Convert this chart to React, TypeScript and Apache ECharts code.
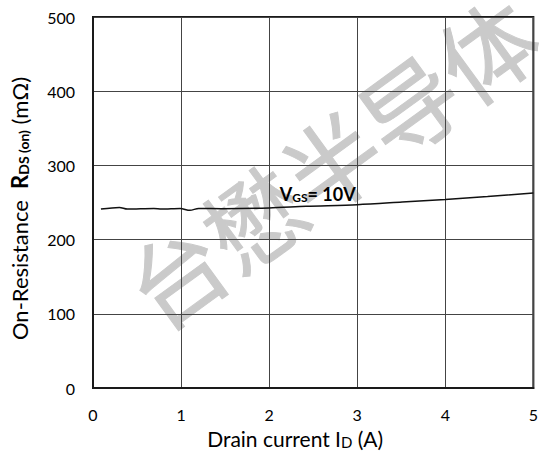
import React, { useEffect, useRef } from "react";
import * as echarts from "echarts";

const currentA = [0.09, 0.3, 0.39, 0.69, 0.78, 0.99, 1.1, 1.2, 1.48, 2.0, 2.42, 3.0, 3.51, 4.0, 4.48, 5.0];
const resistance = [241.2, 243.4, 241.2, 242, 241.2, 242, 239.4, 242, 241.6, 242.6, 244.8, 247, 250.6, 254.2, 258.2, 262.8];
const xTicks = [0, 1, 2, 3, 4, 5];
const yTicks = [0, 100, 200, 300, 400, 500];
const curveLabel = { x: 2.12, y: 263 };
const watermarkText = "台懋半导体";

const FONT = "Lato, 'Noto Sans', sans-serif";

export default function App() {
  const ref = useRef<HTMLDivElement>(null);
  useEffect(() => {
    if (!ref.current) return;
    const chart = echarts.init(ref.current, undefined, { renderer: "svg" });
    const data = currentA.map((x, i) => [x, resistance[i]]);
    chart.setOption({
      animation: false,
      backgroundColor: "#fff",
      textStyle: { fontFamily: FONT },
      grid: {
        left: 92,
        right: 6,
        top: 17,
        bottom: 67,
        show: true,
        borderColor: "#1a1a1a",
        borderWidth: 2,
        backgroundColor: "transparent",
      },
      graphic: [
        {
          type: "text",
          x: 330,
          y: 160,
          z: -10,
          rotation: (36 * Math.PI) / 180,
          style: {
            text: watermarkText,
            fontSize: 96,
            fontWeight: "normal",
            fontFamily: "'Noto Sans CJK SC', sans-serif",
            fill: "#cacaca",
            stroke: "#cacaca",
            lineWidth: 1,
            align: "center",
            verticalAlign: "middle",
          },
        },
      ],
      xAxis: {
        type: "value",
        min: xTicks[0],
        max: xTicks[xTicks.length - 1],
        interval: 1,
        axisLine: { show: true, lineStyle: { color: "#1a1a1a", width: 2 } },
        axisTick: { show: false },
        splitLine: { show: true, lineStyle: { color: "#444", width: 1 } },
        axisLabel: { color: "#000", fontSize: 16, margin: 18, fontFamily: FONT },
        name: "{n|Drain current I}{s|D}{n| (A)}",
        nameLocation: "middle",
        nameGap: 37,
        nameTextStyle: {
          padding: [0, 36, 0, 0],
          rich: {
            n: { fontSize: 21, color: "#000", fontFamily: FONT, verticalAlign: "bottom", lineHeight: 24 },
            s: { fontSize: 15, color: "#000", fontFamily: FONT, verticalAlign: "bottom", lineHeight: 21 },
          },
        },
      },
      yAxis: {
        type: "value",
        min: yTicks[0],
        max: yTicks[yTicks.length - 1],
        interval: 100,
        axisLine: { show: true, lineStyle: { color: "#1a1a1a", width: 2 } },
        axisTick: { show: false },
        splitLine: { show: true, lineStyle: { color: "#444", width: 1 } },
        axisLabel: { color: "#000", fontSize: 16, margin: 18, fontFamily: FONT },
        name: "{n|On-Resistance  }{b|R}{s|DS (on)}{n| (mΩ)}",
        nameLocation: "middle",
        nameRotate: 90,
        nameGap: 63,
        nameTextStyle: {
          padding: [0, 12, 0, 0],
          rich: {
            n: { fontSize: 22, color: "#000", fontFamily: FONT, verticalAlign: "bottom", lineHeight: 26 },
            b: { fontSize: 22, fontWeight: "bold", color: "#000", fontFamily: FONT, verticalAlign: "bottom", lineHeight: 26 },
            s: { fontSize: 14, fontWeight: "bold", color: "#000", fontFamily: FONT, verticalAlign: "bottom", lineHeight: 20 },
          },
        },
      },
      series: [
        {
          type: "line",
          data,
          smooth: 0.3,
          showSymbol: false,
          lineStyle: { color: "#111", width: 1.5 },
          z: 5,
          markPoint: {
            symbol: "circle",
            symbolSize: 0,
            data: [{ coord: [curveLabel.x, curveLabel.y] }],
            label: {
              show: true,
              position: "right",
              distance: 0,
              formatter: "{a|V}{b|GS}{a|= 10V}",
              rich: {
                a: { fontSize: 18, fontWeight: "bold", color: "#000", fontFamily: FONT, verticalAlign: "bottom", lineHeight: 21 },
                b: { fontSize: 12, fontWeight: "bold", color: "#000", fontFamily: FONT, verticalAlign: "bottom", lineHeight: 17 },
              },
            },
          },
        },
      ],
    });
    return () => chart.dispose();
  }, []);
  return <div ref={ref} style={{ width: 541, height: 455, position: "absolute", left: 0, top: 0 }} />;
}
